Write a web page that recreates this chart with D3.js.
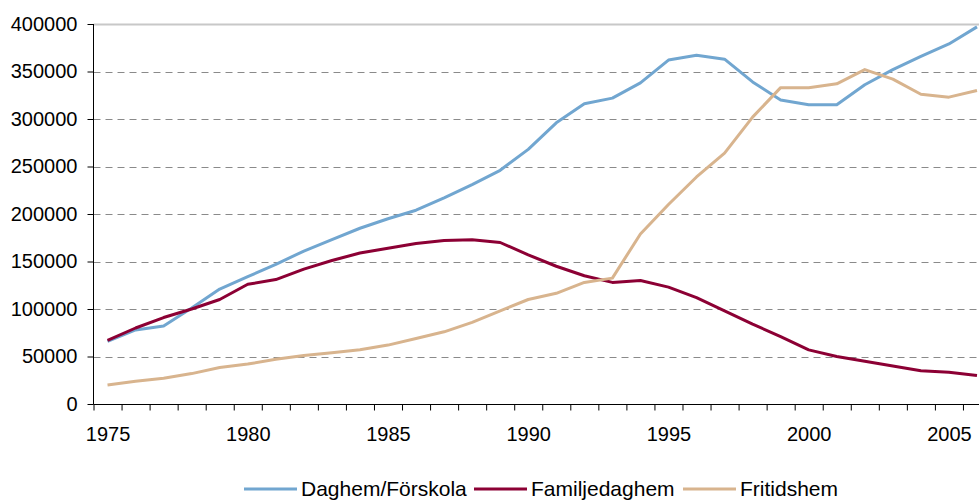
<meta charset='utf-8'>
<script src="https://cdn.jsdelivr.net/npm/d3@7/dist/d3.min.js"></script>
<style>
body { margin: 0; background: #fff; }
text { font-family: Arial, 'Liberation Sans', sans-serif; }
</style>
<body></body>
<script>

// DATA
var years = d3.range(1975, 2007);
var daghem = [66000, 78000, 82000, 101000, 121000, 134000, 147000, 161000, 173000, 185000,
    195000, 204000, 217000, 231000, 246000, 268000, 296000, 316000, 322000, 338000,
    362000, 367000, 363000, 339000, 320000, 315000, 315000, 336000, 352000, 366000,
    379000, 397000];
var familje = [67000, 80000, 91000, 100000, 110000, 126000, 131000, 142000, 151000, 159000,
    164000, 169000, 172000, 173000, 170000, 157000, 145000, 135000, 128000, 130000,
    123000, 112000, 98000, 84000, 71000, 57000, 50000, 45000, 40000, 35000, 33500, 30000];
var fritids = [20000, 24000, 27000, 32000, 38500, 42000, 47000, 51000, 54000, 57000,
    62000, 69000, 76000, 86000, 98000, 110000, 116500, 128000, 132500, 179000,
    210000, 239000, 264000, 302000, 333000, 333000, 337000, 352000, 342000, 326000,
    323000, 330000];
var seriesNames = ['Daghem/Förskola', 'Familjedaghem', 'Fritidshem'];
var seriesColors = ['#71a6d0', '#8c0034', '#d8b48e'];
var yTicks = [0, 50000, 100000, 150000, 200000, 250000, 300000, 350000, 400000];
var xLabels = [1975, 1980, 1985, 1990, 1995, 2000, 2005];

// SETTINGS
var ww = 979, wh = 500;
var pl = 93.5, pr = 991, pt = 24, pb = 404;
var fs = 20;
var svg = d3.select('body').append('svg')
    .attr('width', ww)
    .attr('height', wh);

var x = d3.scaleLinear().domain([1974.5, 2006.5]).range([pl, pr]);
var y = d3.scaleLinear().domain([0, 400000]).range([pb, pt]);

// GRID
svg.append('g').selectAll('line')
    .data(yTicks.filter(function (d) { return d > 0; }))
    .enter().append('line')
    .attr('x1', pl)
    .attr('x2', ww)
    .attr('y1', function (d) { return Math.round(y(d)) + 0.5; })
    .attr('y2', function (d) { return Math.round(y(d)) + 0.5; })
    .attr('stroke', function (d) { return d == 400000 ? '#c8c8c8' : '#8a8a8a'; })
    .attr('stroke-width', function (d) { return d == 400000 ? 2 : 1; })
    .attr('stroke-dasharray', function (d) { return d == 400000 ? null : '7,5'; });

// Y AXIS
var yAxis = svg.append('g')
    .attr('transform', 'translate(' + pl + ',0)')
    .call(d3.axisLeft(y).tickValues(yTicks).tickSize(6).tickPadding(10).tickFormat(d3.format('d')));
yAxis.selectAll('text').attr('font-size', fs).attr('fill', '#000').attr('font-family', 'Arial, Liberation Sans, sans-serif');
yAxis.selectAll('line').attr('stroke', '#000');
yAxis.select('.domain').attr('stroke', '#000').attr('d', 'M0,' + pt + 'V' + (pb + 0.5));

// X AXIS
var xAxis = svg.append('g')
    .attr('transform', 'translate(0,' + (pb + 0.5) + ')')
    .call(d3.axisBottom(x).tickValues(d3.range(1974.5, 2007, 1)).tickSize(6).tickFormat(''));
xAxis.selectAll('line').attr('stroke', '#000');
xAxis.select('.domain').attr('stroke', '#000').attr('d', 'M' + pl + ',0H' + pr);

var xLab = svg.append('g')
    .attr('transform', 'translate(0,' + (pb + 0.5) + ')')
    .call(d3.axisBottom(x).tickValues(xLabels).tickSize(0).tickPadding(22).tickFormat(d3.format('d')));
xLab.select('.domain').remove();
xLab.selectAll('text').attr('font-size', fs).attr('fill', '#000').attr('font-family', 'Arial, Liberation Sans, sans-serif');

// LINES
var line = d3.line()
    .x(function (d, i) { return x(years[i]); })
    .y(function (d) { return y(d); });
[daghem, familje, fritids].forEach(function (s, k) {
    svg.append('path')
        .datum(s)
        .attr('d', line)
        .attr('fill', 'none')
        .attr('stroke', seriesColors[k])
        .attr('stroke-width', 3)
        .attr('stroke-linejoin', 'round');
});

// LEGEND
var legX = [244, 474, 683];
var legend = svg.append('g');
seriesNames.forEach(function (n, k) {
    legend.append('line')
        .attr('x1', legX[k])
        .attr('x2', legX[k] + 53)
        .attr('y1', 489)
        .attr('y2', 489)
        .attr('stroke', seriesColors[k])
        .attr('stroke-width', 3);
    legend.append('text')
        .attr('x', legX[k] + 57)
        .attr('y', 496)
        .attr('font-size', 21)
        .attr('fill', '#000')
        .text(n);
});

</script>
